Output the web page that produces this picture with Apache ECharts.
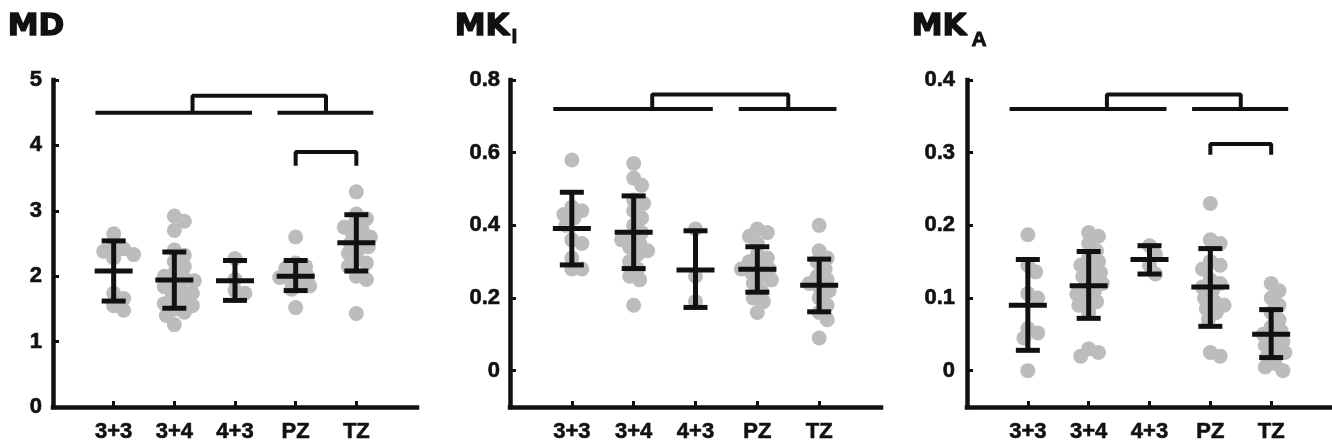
<!DOCTYPE html>
<html><head><meta charset="utf-8">
<script src="https://cdn.jsdelivr.net/npm/echarts@6/dist/echarts.min.js"></script>
<style>html,body{margin:0;padding:0;background:#fff}#c{width:1332px;height:445px}</style>
</head><body><div id="c"></div>
<script>
// ---------- data ----------
const categories = ['3+3', '3+4', '4+3', 'PZ', 'TZ'];

const mdMean = [2.08, 1.94, 1.93, 2.00, 2.51];
const mdLow  = [1.62, 1.51, 1.63, 1.78, 2.08];
const mdHigh = [2.54, 2.37, 2.24, 2.24, 2.94];
const mdPoints = [
  [2.65, 2.45, 2.42, 2.38, 2.33, 2.28, 1.74, 1.66, 1.55, 1.48],
  [2.92, 2.84, 2.70, 2.40, 2.32, 2.22, 2.15, 2.05, 2.00, 1.97, 1.93, 1.88, 1.84, 1.78, 1.74, 1.70, 1.62, 1.58, 1.55, 1.50, 1.45, 1.40, 1.26],
  [2.27, 1.95, 1.78, 1.74],
  [2.60, 2.20, 2.15, 2.12, 2.05, 2.00, 1.98, 1.95, 1.90, 1.85, 1.80, 1.52],
  [3.29, 2.95, 2.88, 2.80, 2.75, 2.70, 2.65, 2.60, 2.55, 2.50, 2.45, 2.40, 2.35, 2.25, 2.20, 2.15, 2.00, 1.95, 1.43]
];
const mdTicks = [0, 1, 2, 3, 4, 5];
const mdSig = [4.5, 4.76];
const mdPair = [3.69, 3.90];

const mkiMean = [0.391, 0.381, 0.277, 0.279, 0.235];
const mkiLow  = [0.291, 0.281, 0.174, 0.216, 0.162];
const mkiHigh = [0.491, 0.481, 0.385, 0.341, 0.307];
const mkiPoints = [
  [0.58, 0.45, 0.44, 0.43, 0.42, 0.40, 0.36, 0.35, 0.31, 0.28, 0.28],
  [0.57, 0.53, 0.51, 0.47, 0.46, 0.44, 0.42, 0.40, 0.38, 0.37, 0.36, 0.35, 0.34, 0.33, 0.32, 0.30, 0.28, 0.26, 0.25, 0.18],
  [0.39, 0.26, 0.19],
  [0.39, 0.38, 0.37, 0.35, 0.32, 0.31, 0.30, 0.29, 0.28, 0.28, 0.27, 0.26, 0.25, 0.24, 0.22, 0.20, 0.19, 0.16],
  [0.40, 0.33, 0.31, 0.30, 0.28, 0.26, 0.25, 0.24, 0.23, 0.22, 0.20, 0.18, 0.16, 0.14, 0.09]
];
const mkiTicks = [0, 0.2, 0.4, 0.6, 0.8];
const mkiSig = [0.72, 0.76];

const mkaMean = [0.090, 0.117, 0.153, 0.115, 0.050];
const mkaLow  = [0.028, 0.072, 0.133, 0.061, 0.018];
const mkaHigh = [0.153, 0.164, 0.172, 0.168, 0.084];
const mkaPoints = [
  [0.187, 0.145, 0.136, 0.106, 0.100, 0.058, 0.052, 0.045, 0.0],
  [0.19, 0.185, 0.175, 0.165, 0.155, 0.15, 0.145, 0.14, 0.135, 0.13, 0.125, 0.12, 0.115, 0.11, 0.105, 0.10, 0.095, 0.09, 0.08, 0.03, 0.025, 0.02],
  [0.172, 0.16, 0.145, 0.133],
  [0.23, 0.18, 0.175, 0.15, 0.145, 0.14, 0.125, 0.12, 0.115, 0.11, 0.10, 0.095, 0.09, 0.085, 0.08, 0.07, 0.025, 0.02],
  [0.12, 0.11, 0.10, 0.09, 0.08, 0.07, 0.06, 0.055, 0.05, 0.045, 0.04, 0.035, 0.03, 0.025, 0.02, 0.01, 0.005, 0.0]
];
const mkaTicks = [0, 0.1, 0.2, 0.3, 0.4];
const mkaSig = [0.36, 0.38];
const mkaPair = [0.297, 0.312];

// bracket x-extents (category axis units)
const groupSpans = [[0.70, 3.28], [3.70, 5.28]];
const bracketLegs = [2.30, 4.50];
const pairLegs = [4, 5];

// ---------- layout / style ----------
const FONT = 'Liberation Sans';
const TFONT = 'DejaVu Sans';
const INK = '#111';
const DOT = '#bcbcbc';
const panels = [
  {grid: {left: 53, top: 80, width: 364, height: 327}, yMin: 0, yMax: 5, ticks: mdTicks, lblMargin: 11,
   mean: mdMean, low: mdLow, high: mdHigh, points: mdPoints, sig: mdSig, pair: mdPair},
  {grid: {left: 510, top: 80, width: 371, height: 327}, yMin: -0.1, yMax: 0.8, ticks: mkiTicks, lblMargin: 10,
   mean: mkiMean, low: mkiLow, high: mkiHigh, points: mkiPoints, sig: mkiSig, pair: null},
  {grid: {left: 967, top: 80, width: 371, height: 327}, yMin: -0.05, yMax: 0.4, ticks: mkaTicks, lblMargin: 12,
   mean: mkaMean, low: mkaLow, high: mkaHigh, points: mkaPoints, sig: mkaSig, pair: mkaPair}
];

// deterministic beeswarm offsets (in pixels, converted to axis units)
function swarm(values, pxPerX, pxPerY, minDist) {
  const order = values.map((v, i) => i).sort((a, b) => values[b] - values[a]);
  const placed = [];
  const out = new Array(values.length).fill(0);
  for (const i of order) {
    const y = values[i] * pxPerY;
    let dx = 0;
    for (let k = 0; k < 60; k++) {
      const cand = k === 0 ? 0 : (k % 2 ? 1 : -1) * Math.ceil(k / 2) * 2;
      if (placed.every(p => Math.hypot(p[0] - cand, p[1] - y) >= minDist)) { dx = cand; break; }
    }
    placed.push([dx, y]);
    out[i] = dx / pxPerX;
  }
  return out;
}

const grids = [], xAxes = [], yAxes = [], series = [];
const lineSty = {color: INK, width: 4};
const lblSty = {color: INK, fontFamily: FONT, fontWeight: 'bold', fontSize: 22, textBorderColor: INK, textBorderWidth: 0.6};

panels.forEach((p, pi) => {
  grids.push(p.grid);
  xAxes.push({
    type: 'value', gridIndex: pi, min: 0, max: 6,
    axisLine: {show: true, onZero: false, lineStyle: {color: INK, width: 4.5, cap: 'square'}},
    axisTick: {show: true, inside: true, length: 6, lineStyle: {color: INK, width: 3}, customValues: [1, 2, 3, 4, 5]},
    axisLabel: Object.assign({show: true, customValues: [1, 2, 3, 4, 5], formatter: v => categories[Math.round(v) - 1] || '',
      margin: 14}, lblSty),
    splitLine: {show: false}
  });
  yAxes.push({
    type: 'value', gridIndex: pi, min: p.yMin, max: p.yMax,
    axisLine: {show: true, onZero: false, lineStyle: {color: INK, width: 4.5, cap: 'square'}},
    axisTick: {show: true, inside: true, length: 6, lineStyle: {color: INK, width: 3}, customValues: p.ticks},
    axisLabel: Object.assign({show: true, customValues: p.ticks, formatter: v => String(+(+v).toFixed(2)),
      margin: p.lblMargin}, lblSty),
    splitLine: {show: false}
  });

  const pxPerX = p.grid.width / 6;
  const pxPerY = p.grid.height / (p.yMax - p.yMin);
  const scatterData = [];
  p.points.forEach((vals, ci) => {
    const off = swarm(vals, pxPerX, pxPerY, 10);
    vals.forEach((v, k) => scatterData.push([ci + 1 + off[k], v]));
  });
  series.push({
    type: 'scatter', xAxisIndex: pi, yAxisIndex: pi, data: scatterData,
    symbolSize: 15, itemStyle: {color: DOT, opacity: 1}, z: 2, silent: true
  });

  series.push({
    type: 'custom', xAxisIndex: pi, yAxisIndex: pi, z: 5, silent: true,
    data: categories.map((c, ci) => [ci + 1, p.low[ci], p.mean[ci], p.high[ci]]),
    renderItem: (params, api) => {
      const x = api.value(0);
      const lo = api.coord([x, api.value(1)]);
      const mid = api.coord([x, api.value(2)]);
      const hi = api.coord([x, api.value(3)]);
      const st = () => ({stroke: INK, lineWidth: 5});
      return {type: 'group', children: [
        {type: 'line', shape: {x1: hi[0], y1: hi[1], x2: lo[0], y2: lo[1]}, style: st()},
        {type: 'line', shape: {x1: hi[0] - 12, y1: hi[1], x2: hi[0] + 12, y2: hi[1]}, style: st()},
        {type: 'line', shape: {x1: lo[0] - 12, y1: lo[1], x2: lo[0] + 12, y2: lo[1]}, style: st()},
        {type: 'line', shape: {x1: mid[0] - 19, y1: mid[1], x2: mid[0] + 19, y2: mid[1]}, style: st()}
      ]};
    }
  });

  const base = p.sig[0], top = p.sig[1];
  const segs = [
    [[groupSpans[0][0], base], [groupSpans[0][1], base]],
    [[groupSpans[1][0], base], [groupSpans[1][1], base]],
    [[bracketLegs[0], base], [bracketLegs[0], top], [bracketLegs[1], top], [bracketLegs[1], base]]
  ];
  if (p.pair) segs.push([[pairLegs[0], p.pair[0]], [pairLegs[0], p.pair[1]], [pairLegs[1], p.pair[1]], [pairLegs[1], p.pair[0]]]);
  segs.forEach(d => series.push({
    type: 'line', xAxisIndex: pi, yAxisIndex: pi, data: d, symbol: 'none', showSymbol: false,
    lineStyle: lineSty, z: 4, silent: true, animation: false
  }));
});

const titleSty = {fill: INK, stroke: INK, lineWidth: 1.4, fontFamily: TFONT, fontWeight: 'bold', fontSize: 31};
const subSty = {fill: INK, stroke: INK, lineWidth: 0.8, fontFamily: FONT, fontWeight: 'bold', fontSize: 21};
const graphic = [
  {type: 'text', left: 7, top: 11, style: Object.assign({text: 'MD'}, titleSty)},
  {type: 'text', left: 454, top: 11, style: Object.assign({text: 'MK'}, titleSty)},
  {type: 'text', left: 511, top: 26, style: Object.assign({text: 'I'}, subSty)},
  {type: 'text', left: 911, top: 11, style: Object.assign({text: 'MK'}, titleSty)},
  {type: 'text', left: 971, top: 29, style: Object.assign({text: 'A'}, subSty)}
];

const chart = echarts.init(document.getElementById('c'), null, {renderer: 'canvas'});
chart.setOption({
  animation: false,
  backgroundColor: '#fff',
  grid: grids, xAxis: xAxes, yAxis: yAxes, series: series, graphic: graphic
});
</script></body></html>
